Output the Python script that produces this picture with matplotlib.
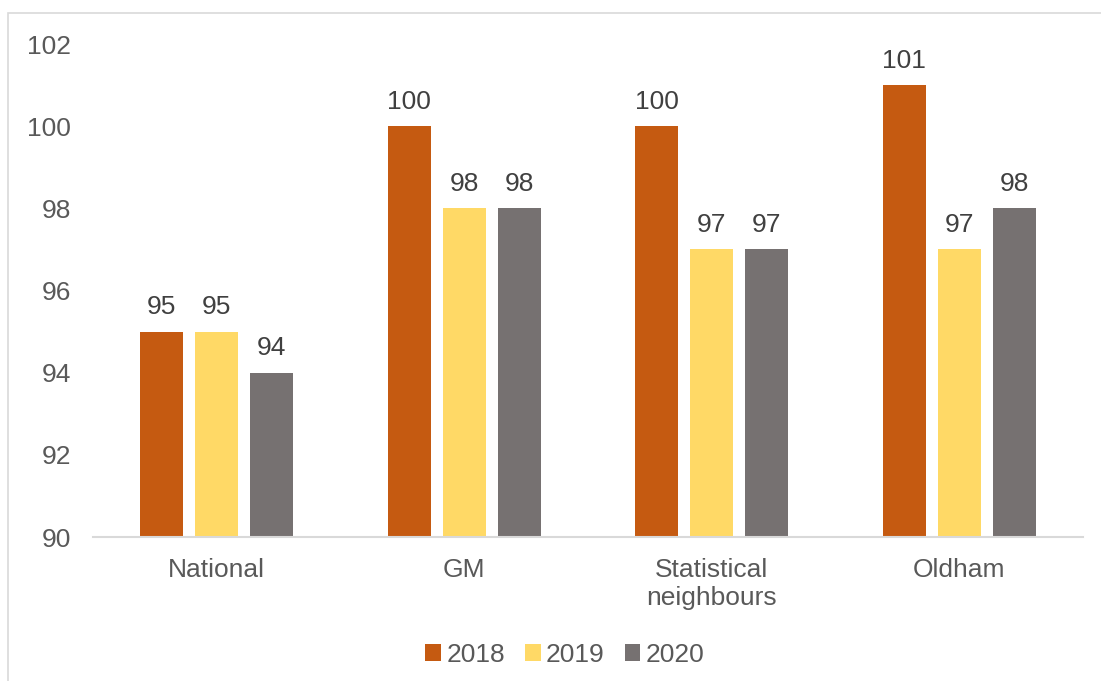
import matplotlib
matplotlib.use("Agg")
import matplotlib.pyplot as plt
import numpy as np
from matplotlib.patches import Rectangle, Patch

categories = ["National", "GM", "Statistical\nneighbours", "Oldham"]
series_names = ["2018", "2019", "2020"]
v2018 = [95, 100, 100, 101]
v2019 = [95, 98, 97, 97]
v2020 = [94, 98, 97, 98]
colors = ["#C55A11", "#FFD966", "#767171"]

plt.rcParams['font.family'] = ['Liberation Sans', 'DejaVu Sans']
fig = plt.figure(figsize=(11.01, 6.81), dpi=100)
ax = fig.add_axes([93/1101, 1-537/681, (1083-93)/1101, (537-44)/681])

# outer border
fig.patches.append(Rectangle((8/1101, -0.05), 1.1, 1-13/681+0.05, transform=fig.transFigure,
                             fill=False, edgecolor="#D9D9D9", linewidth=1.2))

x = np.arange(len(categories))
w = 0.174
step = 0.222
for i, (vals, c, name) in enumerate(zip([v2018, v2019, v2020], colors, series_names)):
    pos = x + (i - 1) * step
    ax.bar(pos, np.array(vals) - 90, bottom=90, width=w, color=c, label=name)
    for p, v in zip(pos, vals):
        ax.text(p, v + 0.3, str(v), ha="center", va="bottom", fontsize=19, color="#404040")

ax.set_ylim(90, 102)
ax.set_xlim(-0.5, 3.5)
ax.set_yticks(range(90, 103, 2))
ax.set_xticks(x)
ax.set_xticklabels(categories)
ax.tick_params(axis="both", length=0, labelsize=19, labelcolor="#595959")
ax.tick_params(axis="y", pad=16)
ax.tick_params(axis="x", pad=15)
for s in ["top", "right", "left"]:
    ax.spines[s].set_visible(False)
ax.spines["bottom"].set_color("#D9D9D9")
ax.spines["bottom"].set_linewidth(1.5)

handles = [Patch(facecolor=c) for c in colors]
fig.legend(handles, series_names, loc="center", bbox_to_anchor=(565/1101, 1-655/681),
           ncol=3, frameon=False, fontsize=19, handlelength=0.6, handleheight=0.6,
           handletextpad=0.2, columnspacing=0.75, labelcolor="#595959")

fig.savefig("out.png", dpi=100)
